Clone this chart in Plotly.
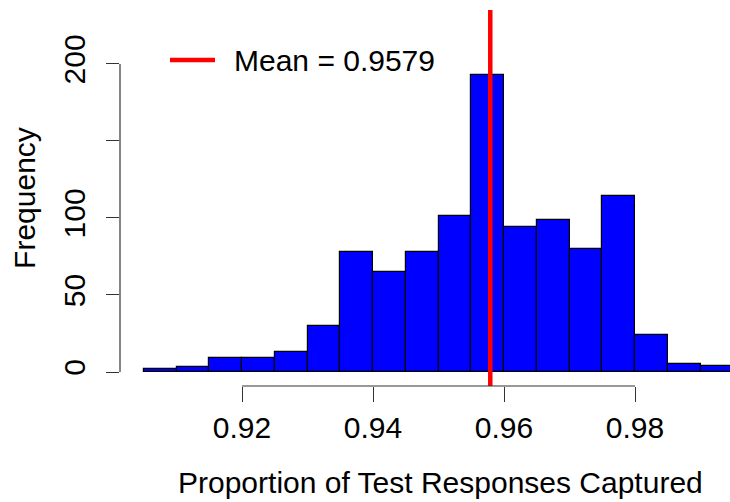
import plotly.graph_objects as go

bin_starts = [0.905, 0.910, 0.915, 0.920, 0.925, 0.930, 0.935, 0.940, 0.945,
              0.950, 0.955, 0.960, 0.965, 0.970, 0.975, 0.980, 0.985, 0.990]
bin_width = 0.005
counts = [2, 3, 9, 9, 13, 30, 78, 65, 78, 101, 193, 94, 99, 80, 114, 24, 5, 4]
mean_value = 0.9579
x_ticks = [0.92, 0.94, 0.96, 0.98]
x_tick_labels = ["0.92", "0.94", "0.96", "0.98"]
y_ticks = [0, 50, 100, 150, 200]
y_tick_labels = ["0", "50", "100", "", "200"]
x_title = "Proportion of Test Responses Captured"
y_title = "Frequency"

FONT = "Liberation Sans, Arial, sans-serif"
FS = 30
AXC = "#333333"

centers = [s + bin_width / 2 for s in bin_starts]

fig = go.Figure()
fig.add_trace(go.Bar(
    x=centers, y=counts, width=[bin_width] * len(counts),
    marker=dict(color="#0000FF", line=dict(color="black", width=1.2)),
    showlegend=False, hoverinfo="skip",
))
fig.add_trace(go.Scatter(
    x=[mean_value, mean_value], y=[-50, 400], mode="lines",
    line=dict(color="#FF0000", width=4.5), showlegend=False, hoverinfo="skip",
))

shapes = [
    # R-style x axis line (first to last tick)
    dict(type="line", xref="x", yref="paper", x0=x_ticks[0], x1=x_ticks[-1],
         y0=0, y1=0, line=dict(color=AXC, width=1.2)),
    # R-style y axis line (first to last tick)
    dict(type="line", xref="paper", yref="y", x0=0, x1=0,
         y0=y_ticks[0], y1=y_ticks[-1], line=dict(color=AXC, width=1.2)),
    # legend sample line
    dict(type="line", xref="paper", yref="paper", x0=(170 - 120) / 610, x1=(215 - 120) / 610,
         y0=(386 - 60) / 376, y1=(386 - 60) / 376, line=dict(color="#FF0000", width=4.5)),
]

annotations = [
    dict(text="Mean = %.4f" % mean_value, xref="paper", yref="paper",
         x=(232 - 120) / 610, y=(386 - 60) / 376, xanchor="left", yanchor="middle",
         showarrow=False, font=dict(family=FONT, size=FS, color="black")),
    dict(text=x_title, xref="paper", yref="paper",
         x=(440 - 120) / 610, y=(386 - 483) / 376, xanchor="center", yanchor="middle",
         showarrow=False, font=dict(family=FONT, size=FS, color="black")),
]

fig.update_layout(
    width=730, height=502,
    margin=dict(l=120, r=0, t=10, b=116),
    paper_bgcolor="white", plot_bgcolor="white",
    bargap=0,
    shapes=shapes, annotations=annotations,
    font=dict(family=FONT, size=FS, color="black"),
    xaxis=dict(
        range=[0.90137, 0.99450], tickvals=x_ticks, ticktext=x_tick_labels,
        ticks="outside", ticklen=15, tickwidth=1.2, tickcolor=AXC,
        showgrid=False, zeroline=False, showline=False,
        tickfont=dict(family=FONT, size=FS, color="black"),
    ),
    yaxis=dict(
        range=[-9.08, 235.0], tickvals=y_ticks, ticktext=y_tick_labels,
        ticks="outside", ticklen=13, tickwidth=1.2, tickcolor=AXC, tickangle=-90,
        ticklabelstandoff=9,
        showgrid=False, zeroline=False, showline=False,
        tickfont=dict(family=FONT, size=FS, color="black"),
        title=dict(text=y_title, font=dict(family=FONT, size=FS, color="black"),
                   standoff=13),
    ),
)

fig.write_html("out.html")
